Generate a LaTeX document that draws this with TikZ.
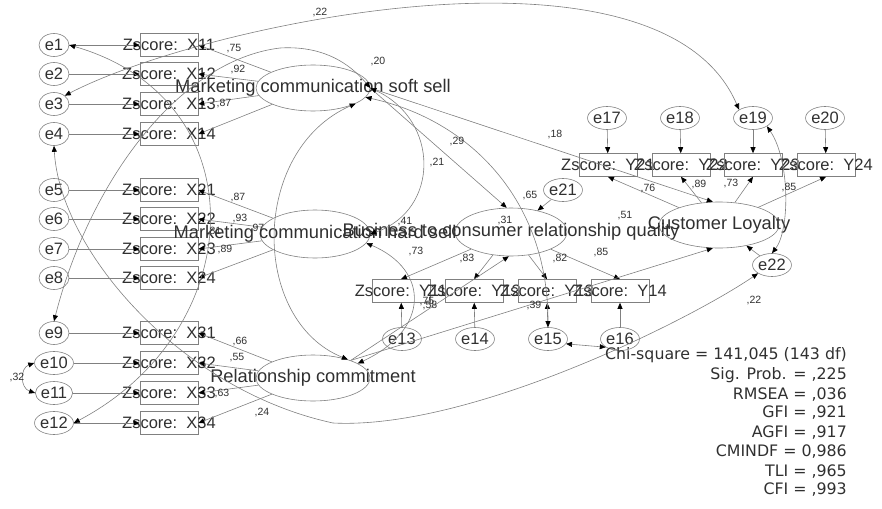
\documentclass[tikz,border=0pt]{standalone}
\usepackage{fontspec}
\setmainfont{Liberation Sans}
\newfontfamily\fitfont{DejaVu Sans}
\usetikzlibrary{arrows.meta,shapes.geometric}
\definecolor{lc}{HTML}{808080}
\definecolor{tc}{HTML}{303030}
\begin{document}
\begin{tikzpicture}[x=1pt,y=-1pt,
  >={Triangle[length=6pt,width=5pt,color=black]},
  ebox/.style={ellipse,draw=lc,line width=0.6pt,minimum width=30pt,minimum height=23pt,inner sep=0pt,text=tc,font=\fontsize{16.5}{16.5}\selectfont},
  zbox/.style={rectangle,draw=lc,line width=0.6pt,minimum width=58pt,minimum height=23pt,inner sep=0pt},
  ztext/.style={text=tc,inner sep=0pt,font=\fontsize{16.5}{16.5}\selectfont},
  lat/.style={ellipse,draw=lc,line width=0.6pt,minimum width=114pt,minimum height=46pt,inner sep=0pt},
  lattext/.style={text=tc,inner sep=0pt,font=\fontsize{18.3}{20}\selectfont},
  lab/.style={text=tc,inner sep=0pt,font=\fontsize{10.5}{10.5}\selectfont},
  fit/.style={text=tc,inner sep=0pt,anchor=east,font=\fitfont\fontsize{15.8}{16}\selectfont},
  conn/.style={draw=lc,line width=0.6pt,->},
  cov/.style={draw=lc,line width=0.6pt,<->}]
\useasboundingbox (0,0) rectangle (882,508);

% error terms of X indicators
\foreach \n/\y in {1/45,2/74,3/104,4/134,5/190,6/219,7/249,8/278,9/333,10/363,11/393,12/423}
  \node[ebox] (e\n) at (54,\y) {e\n};
% X indicator boxes
\foreach \n/\y in {11/45,12/74,13/104,14/134,21/190,22/219,23/249,24/278,31/333,32/363,33/393,34/423}
  \node[zbox,label={[ztext]center:{Zscore:\ \ X\n}}] (x\n) at (169,\y) {};

% latent variables
\node[lat,label={[lattext]center:{Marketing communication soft sell}}] (ss) at (313,88) {};
\node[lat,minimum width=110pt,minimum height=48pt,label={[lattext]center:{Marketing communication hard sell}}] (hs) at (315,234) {};
\node[lat,label={[lattext]center:{Relationship commitment}}] (rc) at (313,378) {};
\node[lat,minimum width=112pt,minimum height=48pt,label={[lattext]center:{Business to consumer relationship quality}}] (bq) at (511,232) {};
\node[lat,minimum width=120pt,label={[lattext]center:{Customer Loyalty}}] (cl) at (719,225) {};

% Y indicator boxes
\foreach \n/\x in {21/608,22/681,23/753,24/826}
  \node[zbox,label={[ztext]center:{Zscore:\ \ Y\n}}] (y\n) at (\x,165) {};
\foreach \n/\x in {11/401,12/474,13/547,14/620}
  \node[zbox,label={[ztext]center:{Zscore:\ \ Y\n}}] (y\n) at (\x,291) {};
% their error terms
\foreach \n/\x in {17/607,18/680,19/753,20/825}
  \node[ebox] (e\n) at (\x,118) {e\n};
\foreach \n/\x in {13/402,14/475,15/548,16/620}
  \node[ebox] (e\n) at (\x,339) {e\n};
\node[ebox] (e21) at (563,190) {e21};
\node[ebox] (e22) at (772,265) {e22};

% error arrows
\foreach \n/\b in {1/11,2/12,3/13,4/14,5/21,6/22,7/23,8/24,9/31,10/32,11/33,12/34}
  \draw[conn] (e\n) -- (x\b);
\foreach \n/\b in {17/21,18/22,19/23,20/24,13/11,14/12,15/13,16/14}
  \draw[conn] (e\n) -- (y\b);
\draw[conn] (e21) -- (bq);
\draw[conn] (e22) -- (cl);

% loadings
\foreach \b in {11,12,13,14} \draw[conn] (ss) -- (x\b.east);
\foreach \b in {21,22,23,24} \draw[conn] (hs) -- (x\b.east);
\foreach \b in {31,32,33,34} \draw[conn] (rc) -- (x\b.east);
\foreach \b in {11,12,13,14} \draw[conn] (bq) -- (y\b.north);
\foreach \b in {21,22,23,24} \draw[conn] (cl) -- (y\b.south);

% structural paths
\draw[conn] (ss.east) -- (bq.100);
\draw[conn] (ss.east) -- (cl.105);
\draw[conn] (rc.25) -- (bq.265);
\draw[conn] (rc.25) -- (cl.255);

% covariances
\draw[cov] (ss.east) .. controls (440,120) and (440,210) .. (hs.east);
\draw[cov] (ss.-20) .. controls (250,150) and (250,320) .. (rc.28);
\draw[cov] (hs.-10) .. controls (430,270) and (430,330) .. (rc.18);
\draw[cov] (ss.-10) .. controls (470,120) and (548,200) .. (e15.north);
\draw[cov] (e3.north east) .. controls (200,25) and (660,-75) .. (e19.north west);
\draw[cov] (e1.east) .. controls (260,100) and (250,330) .. (e12.east);
\draw[cov] (e4.south) .. controls (60,250) and (180,390) .. (333,423) .. controls (470,430) and (690,320) .. (e22.south west);
\draw[cov] (e9.north) .. controls (90,180) and (180,60) .. (280,48) .. controls (330,45) and (355,70) .. (ss.east);
\draw[cov] (e10.west) .. controls (20,368) and (20,388) .. (e11.west);
\draw[cov] (e15.-15) -- (e16.210);
\draw[cov] (e19.south east) .. controls (790,160) and (790,230) .. (e22.north);

% coefficient labels
\node[lab] (l1) at (234,49) {,75};
\node[lab] (l2) at (238,70) {,92};
\node[lab] (l3) at (224,104) {,87};
\node[lab] (l4) at (238,198) {,87};
\node[lab] (l5) at (240,219) {,93};
\node[lab] (l6) at (214,232) {,81};
\node[lab] (l7) at (257,229) {,97};
\node[lab] (l8) at (225,250) {,89};
\node[lab] (l9) at (240,342) {,66};
\node[lab] (l10) at (237,358) {,55};
\node[lab] (l11) at (222,394) {,63};
\node[lab] (l12) at (262,413) {,24};
\node[lab] (l13) at (320,13) {,22};
\node[lab] (l14) at (378,62) {,20};
\node[lab] (l15) at (457,142) {,29};
\node[lab] (l16) at (437,163) {,21};
\node[lab] (l17) at (555,135) {,18};
\node[lab] (l18) at (405,222) {,41};
\node[lab] (l19) at (416,252) {,73};
\node[lab] (l20) at (505,221) {,31};
\node[lab] (l21) at (530,196) {,65};
\node[lab] (l22) at (467,259) {,83};
\node[lab] (l23) at (560,259) {,82};
\node[lab] (l24) at (601,253) {,85};
\node[lab] (l25) at (625,216) {,51};
\node[lab] (l26) at (648,189) {,76};
\node[lab] (l27) at (699,185) {,89};
\node[lab] (l28) at (731,184) {,73};
\node[lab] (l29) at (789,188) {,85};
\node[lab] (l30) at (754,301) {,22};
\node[lab] (l31) at (17,378) {,32};
\node[lab] (l32) at (427,302) {,75};
\node[lab] (l33) at (430,306) {,58};
\node[lab] (l34) at (534,306) {,39};

% fit statistics
\node[fit] (f1) at (847,355) {Chi-square = 141,045 (143 df)};
\node[fit] (f2) at (847,375) {Sig. Prob. = ,225};
\node[fit] (f3) at (847,395) {RMSEA = ,036};
\node[fit] (f4) at (847,413) {GFI = ,921};
\node[fit] (f5) at (847,433) {AGFI = ,917};
\node[fit] (f6) at (847,452) {CMINDF = 0,986};
\node[fit] (f7) at (847,472) {TLI = ,965};
\node[fit] (f8) at (847,490) {CFI = ,993};
\end{tikzpicture}
\end{document}
